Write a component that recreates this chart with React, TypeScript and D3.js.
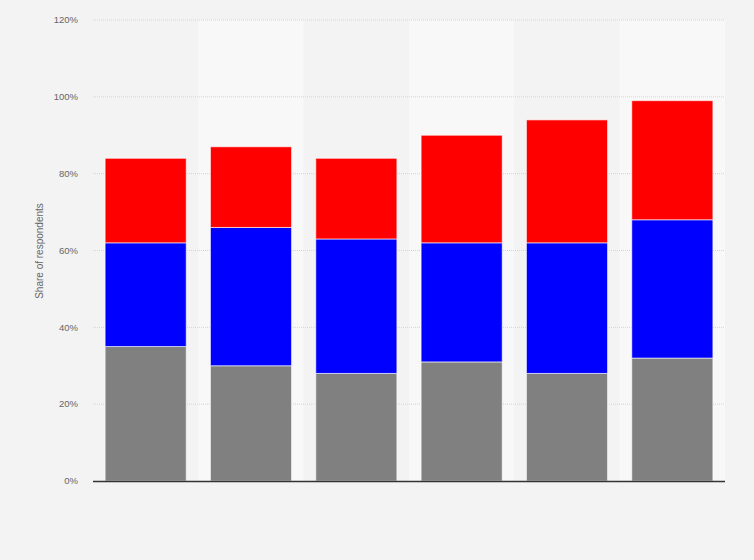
import React from "react";
import * as d3 from "d3";

const categories = ["1", "2", "3", "4", "5", "6"];
const seriesNames = ["Gray", "Blue", "Red"];
const grayValues = [35, 30, 28, 31, 28, 32];
const blueValues = [27, 36, 35, 31, 34, 36];
const redValues = [22, 21, 21, 28, 32, 31];
const seriesColors = ["#808080", "#0000ff", "#ff0000"];
const yTicks = [0, 20, 40, 60, 80, 100, 120];

const W = 754;
const H = 560;
const left = 93;
const right = 725;
const top = 20;
const bottom = 481;

export default function App() {
  const x = d3.scaleBand<string>().domain(categories).range([left, right]).paddingInner(0.23).paddingOuter(0.115);
  const band = d3.scaleBand<string>().domain(categories).range([left, right]);
  const y = d3.scaleLinear().domain([0, 120]).range([bottom, top]);

  const rows = categories.map((c, i) => ({ cat: c, Gray: grayValues[i], Blue: blueValues[i], Red: redValues[i] }));
  const stacked = d3.stack<any>().keys(seriesNames)(rows);

  return (
    <svg width={W} height={H} style={{ position: "absolute", left: 0, top: 0, display: "block" }} fontFamily="Arial, 'Liberation Sans', sans-serif">
      <rect x={0} y={0} width={W} height={H} fill="#f3f3f3" />
      {categories.map((c, i) => (
        <rect key={c} x={band(c)} y={top} width={band.bandwidth()} height={bottom - top} fill={i % 2 === 1 ? "#f8f8f8" : "#f3f3f3"} />
      ))}
      {yTicks.map((t) => (
        <g key={t}>
          {t > 0 && (
            <line x1={left} x2={right} y1={y(t)} y2={y(t)} stroke="#d4d4d4" strokeWidth={1} strokeDasharray="1,1" />
          )}
          <text x={78} y={y(t)} dy="0.35em" textAnchor="end" fontSize={9.5} fill="#666">
            {t}%
          </text>
        </g>
      ))}
      {stacked.map((s, si) =>
        s.map((d: any, i: number) => (
          <rect
            key={`${si}-${i}`}
            x={x(categories[i])}
            y={y(d[1])}
            width={x.bandwidth()}
            height={y(d[0]) - y(d[1])}
            fill={seriesColors[si]}
            stroke="#ffffff"
            strokeOpacity={0.6}
            strokeWidth={1}
          />
        ))
      )}
      <line x1={left} x2={right} y1={bottom + 0.5} y2={bottom + 0.5} stroke="#333" strokeWidth={1.5} />
      <text transform={`translate(43,251) rotate(-90)`} textAnchor="middle" fontSize={10} fill="#666">
        Share of respondents
      </text>
    </svg>
  );
}
